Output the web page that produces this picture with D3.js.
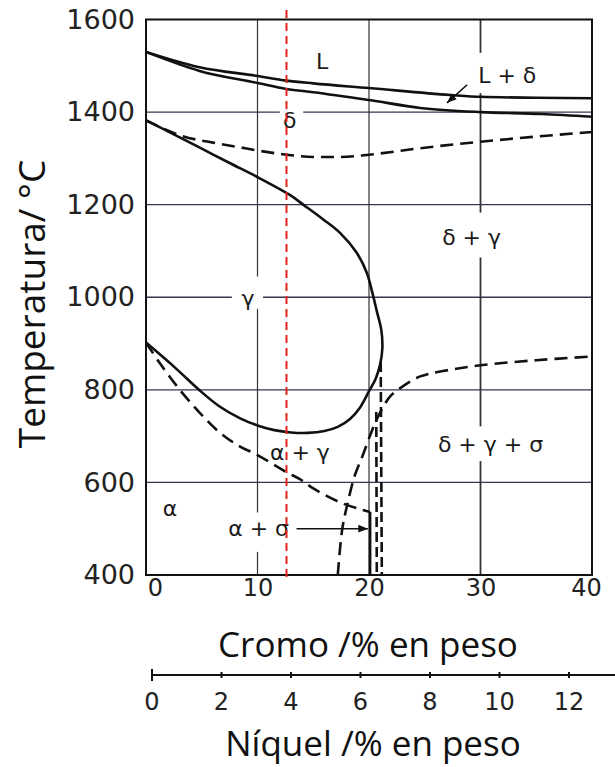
<!DOCTYPE html>
<html>
<head>
<meta charset="utf-8">
<script src="https://cdn.jsdelivr.net/npm/d3@7"></script>
<style>
  body { margin: 0; background: #fff; }
  svg { display: block; }
</style>
</head>
<body>
<script>
let w = 615,
  h = 767;

// axes
const crTicks = [0, 10, 20, 30, 40];
const tempTicks = [400, 600, 800, 1000, 1200, 1400, 1600];
const niTicks = [0, 2, 4, 6, 8, 10, 12];

// phase boundaries, [Cr %, T °C]
const liquidus = [[0, 1530], [4.8, 1497], [10, 1478], [12.6, 1468], [15, 1462], [20, 1452], [27.3, 1437], [30, 1433], [35, 1431], [40, 1430]];
const solidus = [[0, 1530], [4.8, 1489], [10, 1463], [12.6, 1450], [15, 1443], [20, 1426], [24.6, 1409], [30, 1400], [35.5, 1396], [40, 1390]];
const deltaGamma = [[0, 1382], [1.5, 1365], [3.3, 1348], [6, 1334], [8.4, 1324], [10, 1317], [12.6, 1308], [15, 1303], [17.5, 1303], [20, 1308], [24.6, 1322], [30, 1336], [35, 1347], [40, 1357]];
const gammaLoop = [[0, 1382], [2.4, 1353], [5, 1321], [7.5, 1290], [10.2, 1257], [12.9, 1221], [14.1, 1200], [15.9, 1168], [17.4, 1139], [18.9, 1096], [19.8, 1053], [20.3, 1010], [20.7, 970], [21.1, 930], [21.2, 891], [21.0, 855], [20.6, 824], [20.0, 797], [19.2, 762], [18.3, 737], [17.2, 720], [16, 711], [14.5, 707], [13, 708], [11.5, 713], [10, 723], [8.4, 739], [6.6, 764], [4.8, 799], [2.6, 848], [0, 902]];
const alphaGamma = [[0, 902], [1.2, 859], [3, 801], [4.8, 751], [6.6, 708], [8.4, 678], [10, 659], [12.6, 622], [13.8, 607], [15, 587], [17.4, 557], [19.2, 542], [20.1, 536]];
const sigmaSolvus = [[17.2, 400], [17.6, 499], [18.1, 557], [18.7, 613], [19.4, 656], [20.3, 714], [21.0, 751], [21.9, 786], [23.0, 807], [24.6, 829], [26.5, 840], [30, 853], [35, 864], [40, 872]];
const sigmaLineA = [[21.05, 860], [21.15, 400]];
const sigmaLineB = [[20.65, 752], [20.7, 400]];
const alphaSigmaLine = [[20.1, 536], [20.1, 400]];
const alloyCr = 12.6;

// grid pieces broken around the labels
const gridH = [
  { t: 1400, spans: [[0, 12.0], [14.1, 40]] },
  { t: 1000, spans: [[0, 7.7], [10.5, 40]] },
  { t: 1200, spans: [[0, 40]] },
  { t: 800, spans: [[0, 40]] },
  { t: 600, spans: [[0, 40]] }
];
const gridV = [
  { cr: 10, spans: [[1600, 1045], [975, 535], [450, 400]] },
  { cr: 20, spans: [[1600, 400]] },
  { cr: 30, spans: [[1600, 1528], [1441, 1183], [1086, 721], [646, 400]] }
];

const phaseLabels = [
  { text: 'L', cr: 15.8, t: 1510 },
  { text: 'L + δ', cr: 32.4, t: 1480 },
  { text: 'δ', cr: 12.9, t: 1382 },
  { text: 'δ + γ', cr: 29.2, t: 1129 },
  { text: 'γ', cr: 9.15, t: 997 },
  { text: 'α + γ', cr: 13.8, t: 665 },
  { text: 'δ + γ + σ', cr: 30.9, t: 682 },
  { text: 'α', cr: 2.15, t: 544 },
  { text: 'α + σ', cr: 10.1, t: 501 }
];
const leaders = [
  [[13.5, 500], [19.9, 500]],
  [[28.8, 1459], [27.0, 1420]]
];

let xScale = d3.scaleLinear().domain([0, 40]).range([146, 592]);
let yScale = d3.scaleLinear().domain([400, 1600]).range([575, 19.5]);
let niScale = d3.scaleLinear().domain([0, 12]).range([152, 569]);

let svg = d3.select('body')
  .append('svg')
  .attr('width', w)
  .attr('height', h);

svg.append('defs').append('marker')
  .attr('id', 'arr')
  .attr('viewBox', '0 0 10 10')
  .attr('refX', 10).attr('refY', 5)
  .attr('markerWidth', 6).attr('markerHeight', 6)
  .attr('orient', 'auto')
  .append('path')
  .attr('d', 'M0,1 L10,5 L0,9 z')
  .attr('fill', '#111');

// grid
gridH.forEach(g => {
  g.spans.forEach(s => {
    svg.append('line')
      .attr('x1', xScale(s[0])).attr('x2', xScale(s[1]))
      .attr('y1', yScale(g.t)).attr('y2', yScale(g.t))
      .attr('stroke', '#3a3450').attr('stroke-width', 1.3);
  });
});
gridV.forEach(g => {
  g.spans.forEach(s => {
    svg.append('line')
      .attr('x1', xScale(g.cr)).attr('x2', xScale(g.cr))
      .attr('y1', yScale(s[0])).attr('y2', yScale(s[1]))
      .attr('stroke', '#333').attr('stroke-width', g.cr === 30 ? 1.8 : 1.2);
  });
});

// frame
svg.append('rect')
  .attr('x', xScale(0)).attr('y', yScale(1600))
  .attr('width', xScale(40) - xScale(0))
  .attr('height', yScale(400) - yScale(1600))
  .attr('fill', 'none')
  .attr('stroke', '#111')
  .attr('stroke-width', 2);

// curves
const lineMono = d3.line().x(d => xScale(d[0])).y(d => yScale(d[1])).curve(d3.curveMonotoneX);
const lineFree = d3.line().x(d => xScale(d[0])).y(d => yScale(d[1])).curve(d3.curveCatmullRom.alpha(0.5));
const lineStraight = d3.line().x(d => xScale(d[0])).y(d => yScale(d[1]));

const curves = [
  { data: liquidus, gen: lineMono, dash: null },
  { data: solidus, gen: lineMono, dash: null },
  { data: deltaGamma, gen: lineMono, dash: '13,7' },
  { data: gammaLoop, gen: lineFree, dash: null },
  { data: alphaGamma, gen: lineFree, dash: '13,7' },
  { data: sigmaSolvus, gen: lineFree, dash: '13,7' },
  { data: sigmaLineA, gen: lineStraight, dash: '10,5' },
  { data: sigmaLineB, gen: lineStraight, dash: '10,5' },
  { data: alphaSigmaLine, gen: lineStraight, dash: null }
];

svg.selectAll('path.curve')
  .data(curves)
  .enter()
  .append('path')
  .attr('class', 'curve')
  .attr('d', d => d.gen(d.data))
  .attr('fill', 'none')
  .attr('stroke', '#111')
  .attr('stroke-width', 2.6)
  .attr('stroke-dasharray', d => d.dash);

// leaders
svg.selectAll('path.leader')
  .data(leaders)
  .enter()
  .append('path')
  .attr('class', 'leader')
  .attr('d', d => lineStraight(d))
  .attr('fill', 'none')
  .attr('stroke', '#111')
  .attr('stroke-width', 1.6)
  .attr('marker-end', 'url(#arr)');

// phase labels
svg.selectAll('text.phase')
  .data(phaseLabels)
  .enter()
  .append('text')
  .attr('class', 'phase')
  .attr('x', d => xScale(d.cr))
  .attr('y', d => yScale(d.t))
  .attr('dy', '0.35em')
  .attr('text-anchor', 'middle')
  .attr('font-family', 'DejaVu Sans, sans-serif')
  .attr('font-size', '22px')
  .attr('fill', '#1a1a1a')
  .text(d => d.text);

// alloy line
svg.append('line')
  .attr('x1', xScale(alloyCr)).attr('x2', xScale(alloyCr))
  .attr('y1', 10).attr('y2', 582)
  .attr('stroke', '#e3231d')
  .attr('stroke-width', 2)
  .attr('stroke-dasharray', '8,5');

// y axis labels
let yAxis = d3.axisLeft(yScale).tickValues(tempTicks).tickSize(0).tickPadding(11).tickFormat(d3.format('d'));
let gy = svg.append('g').attr('transform', 'translate(' + xScale(0) + ',0)').call(yAxis);
gy.select('.domain').remove();
gy.selectAll('text')
  .attr('font-family', 'DejaVu Sans, sans-serif')
  .attr('font-size', '27px')
  .attr('fill', '#222');

// Cr axis labels
let xAxis = d3.axisBottom(xScale).tickValues(crTicks).tickSize(0).tickPadding(4);
let gx = svg.append('g').attr('transform', 'translate(0,' + yScale(400) + ')').call(xAxis);
gx.select('.domain').remove();
gx.selectAll('text')
  .attr('font-family', 'DejaVu Sans, sans-serif')
  .attr('font-size', '24px')
  .attr('fill', '#222')
  .attr('dx', d => d === 0 ? 9 : (d === 40 ? -6 : 0));

// Ni axis
const niY = 675;
svg.append('line')
  .attr('x1', niScale(0)).attr('x2', w)
  .attr('y1', niY).attr('y2', niY)
  .attr('stroke', '#111').attr('stroke-width', 2);
svg.selectAll('line.niTick')
  .data(niTicks)
  .enter()
  .append('line')
  .attr('class', 'niTick')
  .attr('x1', d => niScale(d)).attr('x2', d => niScale(d))
  .attr('y1', d => d === 0 ? niY - 6 : niY - 3)
  .attr('y2', d => d === 0 ? niY + 6 : niY + 3)
  .attr('stroke', '#111').attr('stroke-width', 2);
svg.selectAll('text.niLabel')
  .data(niTicks)
  .enter()
  .append('text')
  .attr('class', 'niLabel')
  .attr('x', d => niScale(d))
  .attr('y', niY + 27)
  .attr('dy', '0.35em')
  .attr('text-anchor', 'middle')
  .attr('font-family', 'DejaVu Sans, sans-serif')
  .attr('font-size', '24px')
  .attr('fill', '#222')
  .text(d => d);

// titles
svg.append('text')
  .attr('x', 368).attr('y', 657)
  .attr('text-anchor', 'middle')
  .attr('font-family', 'Open Sans, sans-serif')
  .attr('font-size', '35px')
  .attr('fill', '#111')
  .text('Cromo /% en peso');

svg.append('text')
  .attr('x', 373).attr('y', 756)
  .attr('text-anchor', 'middle')
  .attr('font-family', 'Open Sans, sans-serif')
  .attr('font-size', '35px')
  .attr('fill', '#111')
  .text('Níquel /% en peso');

svg.append('text')
  .attr('transform', 'translate(45,304) rotate(-90)')
  .attr('text-anchor', 'middle')
  .attr('font-family', 'Open Sans, sans-serif')
  .attr('font-size', '37px')
  .attr('fill', '#111')
  .text('Temperatura/ °C');
</script>
</body>
</html>
